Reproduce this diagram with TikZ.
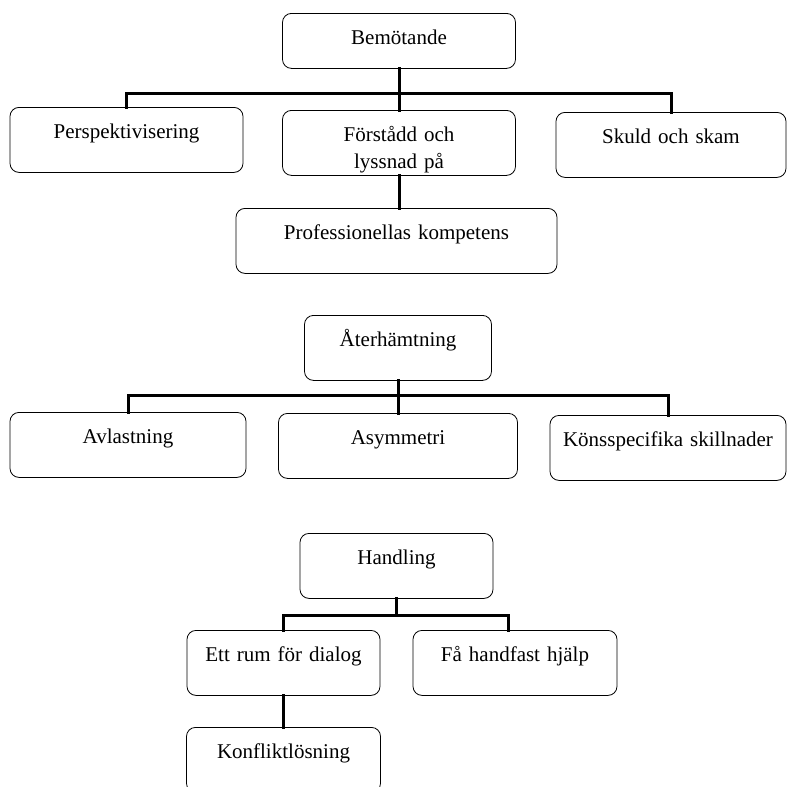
\documentclass[tikz,border=0pt]{standalone}
\usepackage{fontspec}
\setmainfont{Liberation Serif}
\usepackage{tikz}
\usetikzlibrary{calc}

\tikzset{
  box/.style={draw,line width=0.8pt,rounded corners=9pt,text width=#1,align=center,
    inner xsep=0pt,inner ysep=0pt,text height=31pt,text depth=34pt,anchor=north,
    font=\fontsize{21}{27}\selectfont},
  conn/.style={line width=3pt,line cap=rect}
}

\begin{document}
\begin{tikzpicture}[x=1pt,y=-1pt]
            \useasboundingbox (0,0) rectangle (787,787);
            % Bemötande
            \node[box=233pt,text depth=24pt] (bem) at (399,13) {Bemötande};
            \node[box=233pt] (persp) at (126.5,107) {Perspektivisering};
            \node[box=233pt] (forst) at (399,110) {Förstådd och\\lyssnad på};
            \node[box=230pt] (skuld) at (671,112) {Skuld och skam};
            \node[box=321pt] (prof) at (396.5,208) {Professionellas kompetens};
            \coordinate (bar1) at (0,93);
            \draw[conn] (bem.south) -- (forst.north);
            \draw[conn] (persp.north) |- (skuld.north |- bar1) -- (skuld.north);
            \draw[conn] (forst.south) -- (forst.south |- prof.north);
            % Återhämtning
            \node[box=187pt] (ater) at (398,315) {Återhämtning};
            \node[box=236pt] (avl) at (128,412) {Avlastning};
            \node[box=239pt] (asym) at (398,413) {Asymmetri};
            \node[box=236pt] (kons) at (668,415) {Könsspecifika skillnader};
            \coordinate (bar2) at (0,395);
            \draw[conn] (ater.south) -- (asym.north);
            \draw[conn] (avl.north) |- (kons.north |- bar2) -- (kons.north);
            % Handling
            \node[box=193pt] (hand) at (396.5,533) {Handling};
            \node[box=193pt] (ett) at (283.5,630) {Ett rum för dialog};
            \node[box=204pt] (fa) at (515,630) {Få handfast hjälp};
            \node[box=194pt] (konf) at (283.5,727) {Konfliktlösning};
            \coordinate (bar3) at (0,615);
            \coordinate (fadrop) at ($(fa.north)+(-7,0)$);
            \draw[conn] (hand.south) -- (hand.south |- bar3);
            \draw[conn] (ett.north) |- (fadrop |- bar3) -- (fadrop);
            \draw[conn] (ett.south) -- (konf.north);
\end{tikzpicture}
\end{document}
